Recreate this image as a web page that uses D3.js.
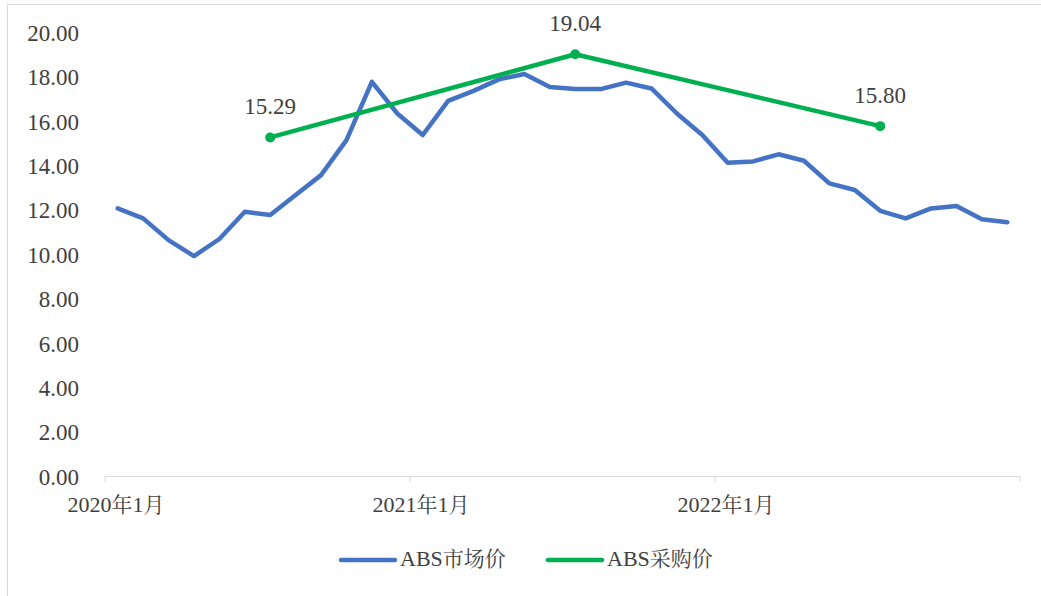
<!DOCTYPE html>
<html><head><meta charset="utf-8">
<script src="https://cdn.jsdelivr.net/npm/d3@7"></script>
</head><body style="margin:0">
<script>
const months = [];
for (const y of [2020, 2021, 2022]) for (let m = 1; m <= 12; m++) months.push(y + "年" + m + "月");
const tickLabels = ["2020年1月", "2021年1月", "2022年1月"];
const marketPrice = [12.09, 11.64, 10.66, 9.94, 10.71, 11.94, 11.79, 12.69, 13.59, 15.17, 17.80, 16.37,
  15.40, 16.94, 17.39, 17.91, 18.15, 17.57, 17.47, 17.47, 17.76, 17.50, 16.37, 15.40,
  14.15, 14.21, 14.53, 14.24, 13.22, 12.92, 11.98, 11.64, 12.09, 12.20, 11.60, 11.47];
const purchaseMonths = ["2020年7月", "2021年7月", "2022年7月"];
const purchasePrice = [15.29, 19.04, 15.80];
const yTicks = [0, 2, 4, 6, 8, 10, 12, 14, 16, 18, 20];
const seriesNames = ["ABS市场价", "ABS采购价"];

const W = 1041, H = 596;
const FN = '"Liberation Serif"';
const FC = '"Noto Serif CJK SC"';
const txt = "#404040";
const svg = d3.select("body").append("svg").attr("width", W).attr("height", H).style("display", "block");

// frame
svg.append("line").attr("x1", 7.5).attr("x2", W).attr("y1", 4.5).attr("y2", 4.5).attr("stroke", "#d9d9d9");
svg.append("line").attr("x1", 7.5).attr("x2", 7.5).attr("y1", 4.5).attr("y2", H).attr("stroke", "#d9d9d9");

const x = d3.scaleBand().domain(months).range([105, 1020]);
const y = d3.scaleLinear().domain([0, 20]).range([476.5, 33]);
const cx = d => x(d) + x.bandwidth() / 2;

// mixed-script text: Latin/digits in Liberation Serif, CJK in Noto Serif CJK
function mixed(sel) {
  sel.each(function(d) {
    const t = d3.select(this);
    const s = typeof d === "string" ? d : d.name;
    const parts = s.match(/[\u3000-\u9fff]+|[^\u3000-\u9fff]+/g);
    t.selectAll("tspan").data(parts).join("tspan")
      .style("font-family", p => /[\u3000-\u9fff]/.test(p) ? FC : FN)
      .attr("font-size", p => /[\u3000-\u9fff]/.test(p) ? 21 : 22)
      .text(p => p);
  });
}

// y labels
svg.append("g").selectAll("text").data(yTicks).join("text").style("font-family", FN)
  .attr("x", 79).attr("y", d => y(d)).attr("dy", "0.35em")
  .attr("text-anchor", "end").attr("font-size", 23).attr("fill", txt)
  .text(d => d3.format(".2f")(d));

// x axis line and ticks
const ax = svg.append("g");
ax.append("line").attr("x1", 105).attr("x2", 1020).attr("y1", 476.5).attr("y2", 476.5).attr("stroke", "#d9d9d9");
const tickPos = [0, 12, 24, 36].map(i => i < 36 ? x(months[i]) : x.range()[1]);
ax.selectAll("line.k").data(tickPos).join("line").attr("class", "k")
  .attr("x1", d => d).attr("x2", d => d).attr("y1", 476.5).attr("y2", 482).attr("stroke", "#d9d9d9");
ax.selectAll("text").data(tickLabels).join("text")
  .attr("x", d => x(d) + 11).attr("y", 506).attr("dy", "0.35em")
  .attr("text-anchor", "middle").attr("fill", txt)
  .call(mixed);

// blue line
const line = d3.line().x(d => cx(d[0])).y(d => y(d[1]));
svg.append("path").datum(months.map((m, i) => [m, marketPrice[i]]))
  .attr("d", line).attr("fill", "none").attr("stroke", "#4472C4").attr("stroke-width", 4.5)
  .attr("stroke-linejoin", "round").attr("stroke-linecap", "round");

// green line
const gdata = purchaseMonths.map((m, i) => [m, purchasePrice[i]]);
svg.append("path").datum(gdata)
  .attr("d", line).attr("fill", "none").attr("stroke", "#00B050").attr("stroke-width", 4.5)
  .attr("stroke-linejoin", "round");
svg.append("g").selectAll("circle").data(gdata).join("circle")
  .attr("cx", d => cx(d[0])).attr("cy", d => y(d[1])).attr("r", 5).attr("fill", "#00B050");
svg.append("g").selectAll("text").data(gdata).join("text").style("font-family", FN)
  .attr("x", d => cx(d[0])).attr("y", d => y(d[1]) - 31).attr("dy", "0.35em")
  .attr("text-anchor", "middle").attr("font-size", 23).attr("fill", txt)
  .text(d => d[1].toFixed(2));

// legend
const leg = [{name: seriesNames[0], color: "#4472C4", x: 341}, {name: seriesNames[1], color: "#00B050", x: 548}];
const lg = svg.append("g").selectAll("g").data(leg).join("g");
lg.append("line").attr("x1", d => d.x).attr("x2", d => d.x + 54).attr("y1", 560).attr("y2", 560)
  .attr("stroke", d => d.color).attr("stroke-width", 4.5).attr("stroke-linecap", "round");
lg.append("text").attr("x", d => d.x + 59).attr("y", 560).attr("dy", "0.35em")
  .attr("fill", txt).call(mixed);
</script>
</body></html>
